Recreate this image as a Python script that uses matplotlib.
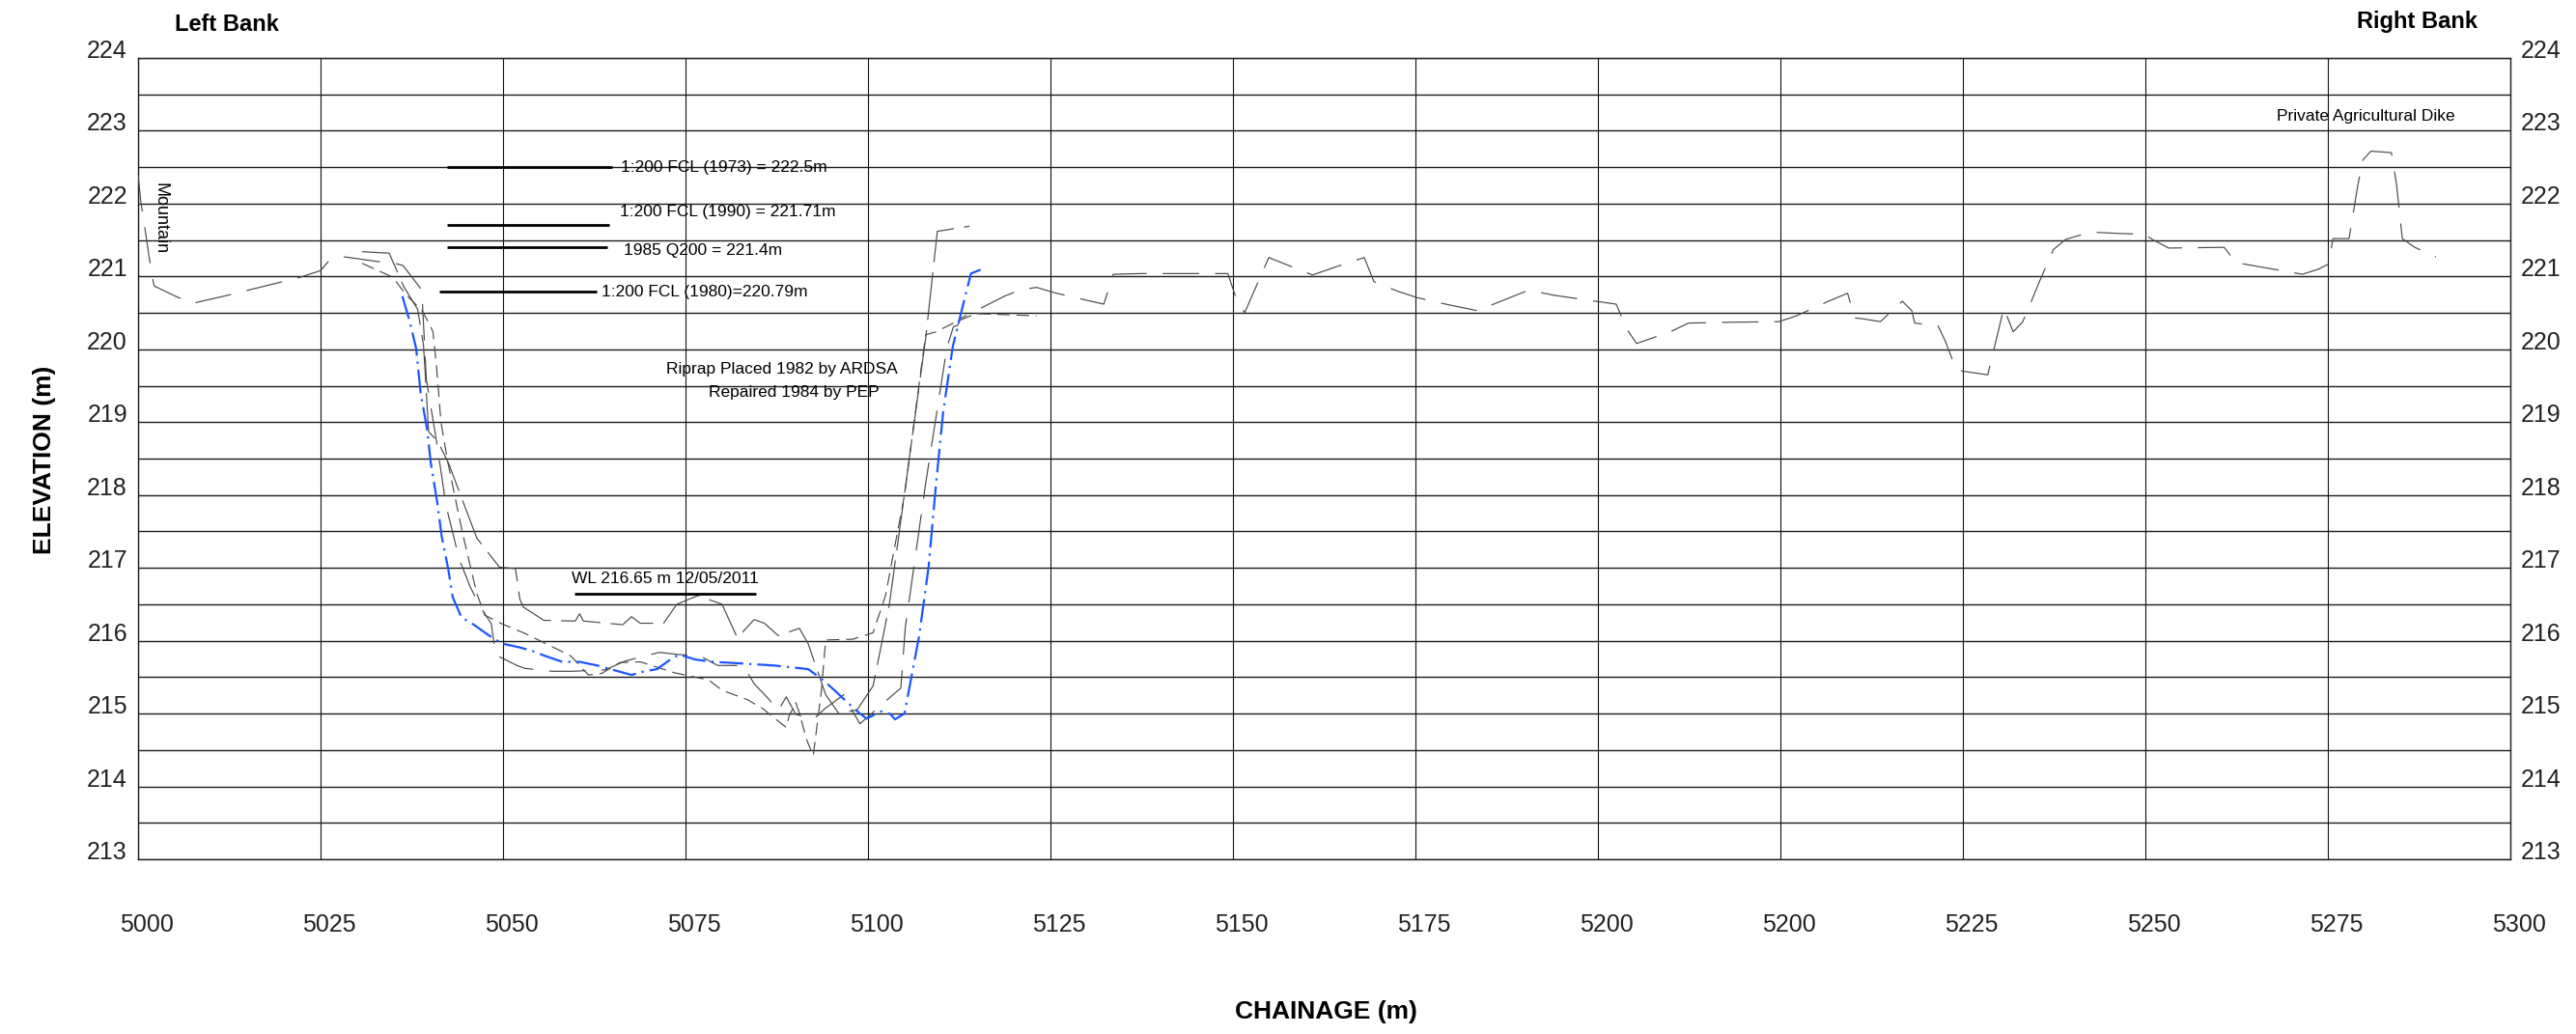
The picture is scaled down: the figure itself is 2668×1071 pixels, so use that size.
import numpy as np
import matplotlib
matplotlib.use('Agg')
import matplotlib.pyplot as plt
from matplotlib.transforms import blended_transform_factory, ScaledTranslation

plt.rcParams['font.family'] = ['Liberation Sans', 'DejaVu Sans']

W, H, DPI = 2668, 1071, 100

# ---------------- data ----------------
grid_chainage = [5000, 5025, 5050, 5075, 5100, 5125, 5150, 5175, 5200, 5225, 5250, 5275, 5300, 5325]
chainage_labels = ["5000", "5025", "5050", "5075", "5100", "5125", "5150", "5175",
                   "5200", "5200", "5225", "5250", "5275", "5300"]
elev_ticks = [213, 214, 215, 216, 217, 218, 219, 220, 221, 222, 223, 224]
elev_half = [213.5, 214.5, 215.5, 216.5, 217.5, 218.5, 219.5, 220.5, 221.5, 222.5, 223.5]

# latest survey (blue dash-dot)
survey_2011 = [(5036.2, 220.73), (5037.2, 220.39), (5038.1, 220.01), (5038.7, 219.41), (5039.6, 218.90),
               (5040.1, 218.44), (5041.0, 217.89), (5041.6, 217.43), (5042.5, 216.98), (5043.1, 216.60),
               (5044.3, 216.32), (5046.0, 216.22), (5048.1, 216.07), (5049.9, 215.96), (5052.2, 215.91),
               (5054.0, 215.86), (5055.8, 215.79), (5058.1, 215.71), (5060.5, 215.71), (5062.9, 215.66),
               (5065.8, 215.58), (5067.6, 215.53), (5069.4, 215.58), (5071.1, 215.61), (5072.9, 215.74),
               (5074.1, 215.81), (5076.4, 215.74), (5078.8, 215.71), (5082.3, 215.69), (5087.1, 215.66),
               (5091.8, 215.61), (5093.6, 215.48), (5095.3, 215.33), (5097.1, 215.16), (5098.9, 215.00),
               (5099.8, 214.93), (5101.8, 215.03), (5103.1, 214.99), (5103.7, 214.92), (5105.0, 215.00),
               (5106.0, 215.53), (5107.0, 216.06), (5108.3, 217.01), (5109.3, 218.13), (5110.3, 219.14),
               (5111.6, 220.03), (5112.9, 220.56), (5114.1, 221.04), (5116.1, 221.12)]

# full ground profile (grey long dash)
ground_profile = [(5000.0, 222.39), (5000.4, 222.01), (5000.75, 221.79), (5001.5, 221.28), (5001.85, 221.04),
                  (5002.2, 220.87), (5005.1, 220.73), (5007.4, 220.63), (5012.2, 220.74), (5014.6, 220.80),
                  (5019.5, 220.92), (5021.9, 220.98), (5025.0, 221.08), (5026.1, 221.21), (5028.2, 221.27),
                  (5033.2, 221.20), (5035.6, 221.17), (5036.3, 221.15), (5038.9, 220.81), (5039.0, 220.55),
                  (5039.5, 219.58), (5040.9, 218.73), (5042.2, 217.85), (5044.0, 217.12), (5045.5, 216.74),
                  (5046.8, 216.48), (5048.4, 216.23), (5049.0, 215.79), (5049.7, 215.77), (5051.9, 215.66),
                  (5053.0, 215.62), (5056.8, 215.58), (5059.3, 215.58), (5064.0, 215.60), (5066.7, 215.72),
                  (5071.4, 215.84), (5074.1, 215.81), (5077.0, 215.79), (5079.4, 215.66), (5082.9, 215.66),
                  (5084.4, 215.41), (5086.3, 215.21), (5087.7, 215.04), (5088.8, 215.23), (5090.1, 214.99),
                  (5092.5, 214.92), (5094.0, 215.06), (5096.7, 215.26), (5097.6, 215.08), (5098.9, 214.86),
                  (5103.1, 215.23), (5104.5, 215.35), (5105.1, 216.17), (5107.9, 218.16), (5110.8, 220.02),
                  (5111.7, 220.31), (5112.3, 220.33), (5112.6, 220.42), (5118.7, 220.73), (5121.0, 220.82),
                  (5123.1, 220.85), (5125.8, 220.77), (5129.3, 220.69), (5132.3, 220.62), (5133.6, 221.03),
                  (5137.4, 221.04), (5149.3, 221.04), (5150.3, 220.74), (5151.6, 220.50), (5154.9, 221.26),
                  (5158.4, 221.12), (5160.9, 221.02), (5165.5, 221.18), (5168.0, 221.26), (5169.3, 220.93),
                  (5172.5, 220.80), (5175.2, 220.71), (5179.6, 220.61), (5183.5, 220.53), (5186.7, 220.66),
                  (5190.2, 220.80), (5191.6, 220.79), (5194.1, 220.74), (5199.0, 220.67), (5202.5, 220.62),
                  (5204.0, 220.27), (5205.3, 220.08), (5209.9, 220.24), (5212.4, 220.36), (5217.1, 220.37),
                  (5224.8, 220.38), (5227.2, 220.46), (5231.6, 220.66), (5234.2, 220.77), (5235.2, 220.43),
                  (5236.2, 220.42), (5238.7, 220.38), (5240.8, 220.58), (5241.7, 220.66), (5243.0, 220.53),
                  (5243.4, 220.36), (5246.6, 220.32), (5247.6, 220.11), (5249.1, 219.72), (5250.0, 219.70),
                  (5253.4, 219.65), (5254.3, 220.02), (5254.9, 220.27), (5255.6, 220.57), (5256.1, 220.44),
                  (5256.9, 220.24), (5258.2, 220.38), (5259.3, 220.64), (5260.4, 220.91), (5262.4, 221.37),
                  (5264.1, 221.51), (5267.5, 221.61), (5271.4, 221.59), (5274.8, 221.58), (5276.1, 221.50),
                  (5278.2, 221.39), (5285.8, 221.40), (5287.4, 221.19), (5289.1, 221.16), (5296.5, 221.03),
                  (5298.7, 221.10), (5300.1, 221.17), (5300.7, 221.52), (5302.9, 221.52), (5304.1, 222.25),
                  (5304.8, 222.60), (5305.9, 222.72), (5308.7, 222.70), (5309.4, 222.27), (5310.2, 221.52),
                  (5311.9, 221.40), (5314.8, 221.27)]

# older channel survey (grey long dash, upper bed)
survey_old_a = [(5030.7, 221.34), (5034.4, 221.32), (5036.4, 220.86), (5038.3, 220.55), (5039.1, 220.06),
                (5039.5, 219.40), (5039.8, 218.87), (5041.1, 218.73), (5042.6, 218.42), (5044.4, 217.94),
                (5046.4, 217.41), (5049.5, 217.01), (5051.7, 216.99), (5052.3, 216.57), (5052.8, 216.46),
                (5055.6, 216.28), (5059.9, 216.27), (5060.5, 216.37), (5061.0, 216.27), (5066.4, 216.22),
                (5067.6, 216.33), (5068.8, 216.24), (5072.0, 216.24), (5073.8, 216.50), (5076.7, 216.62),
                (5080.0, 216.50), (5082.1, 216.04), (5084.4, 216.29), (5085.8, 216.24), (5087.7, 216.07),
                (5090.6, 216.17), (5091.8, 215.96), (5093.0, 215.61), (5094.2, 215.26), (5096.0, 215.00),
                (5098.5, 215.05), (5100.7, 215.38), (5102.9, 216.48), (5104.9, 217.94), (5106.4, 219.05),
                (5107.9, 220.15), (5109.5, 221.62), (5113.9, 221.69)]

# older channel survey (grey short dash, deep scour)
survey_old_b = [(5030.7, 221.18), (5034.9, 220.99), (5036.7, 220.75), (5038.9, 220.53), (5040.0, 220.33),
                (5040.4, 220.24), (5040.9, 219.75), (5041.5, 219.00), (5042.4, 218.47), (5044.4, 217.50),
                (5046.4, 216.65), (5047.5, 216.35), (5049.9, 216.23), (5053.0, 216.10), (5057.9, 215.86),
                (5059.3, 215.79), (5061.7, 215.53), (5063.5, 215.55), (5066.0, 215.70), (5068.8, 215.71),
                (5073.5, 215.56), (5078.2, 215.46), (5080.0, 215.32), (5083.5, 215.19), (5085.7, 215.06),
                (5087.0, 214.95), (5088.8, 214.81), (5089.2, 214.97), (5090.1, 215.15), (5090.5, 215.04),
                (5091.6, 214.64), (5092.5, 214.42), (5093.6, 215.30), (5094.2, 216.01), (5097.9, 216.02),
                (5100.7, 216.11), (5102.4, 216.62), (5105.0, 218.00), (5107.9, 220.20), (5109.3, 220.24),
                (5112.1, 220.38), (5114.8, 220.49), (5123.1, 220.46)]

# reference levels: (label, elevation, line start, line end, text x, text y)
level_lines = [("1:200 FCL (1973) = 222.5m", 222.50, 5042.3, 5065.0, 5066.1, 222.50),
               ("1:200 FCL (1990) = 221.71m", 221.71, 5042.3, 5064.5, 5066.0, 221.88),
               ("1985 Q200 = 221.4m", 221.40, 5042.3, 5064.3, 5066.5, 221.36),
               ("1:200 FCL (1980)=220.79m", 220.79, 5041.3, 5062.8, 5063.5, 220.79)]
water_level = 216.65
water_extent = (5059.8, 5084.6)

# ---------------- figure ----------------
fig = plt.figure(figsize=(W / DPI, H / DPI), dpi=DPI)
ax = fig.add_axes([143 / W, 1 - 890 / H, (2600 - 143) / W, (890 - 60) / H])
ax.set_xlim(5000, 5325)
ax.set_ylim(213, 224)

ax.set_xticks(grid_chainage)
ax.set_yticks(elev_ticks)
ax.set_yticks(elev_half, minor=True)
ax.set_axisbelow(True)
ax.grid(axis='y', which='both', color='#1c1c1c', lw=1.0)
ax.grid(axis='x', which='major', color='#111111', lw=0.8)
ax.tick_params(axis='x', length=0, labelbottom=False)
ax.tick_params(axis='y', which='both', length=0, labelleft=True, labelright=True,
               labelsize=18, colors='#222222')
ax.tick_params(axis='y', which='major', pad=8)
for t in ax.yaxis.get_major_ticks():
    t.label1.set_va('baseline')
    t.label2.set_va('baseline')
for lbl in ax.yaxis.get_majorticklabels():
    lbl.set_va('baseline')
for sp in ax.spines.values():
    sp.set_color('#1c1c1c')
    sp.set_linewidth(1.0)

# x labels, shifted a little to the right of the grid lines
trans_x = blended_transform_factory(ax.transData, ax.transAxes) + \
    ScaledTranslation(9 / DPI, -68 / DPI, fig.dpi_scale_trans)
for xv, lab in zip(grid_chainage, chainage_labels):
    ax.text(xv, 0, lab, transform=trans_x, ha='center', va='center', fontsize=18, color='#222222')

# profiles
gx, gy = zip(*ground_profile)
ax.plot(gx, gy, color='#4a4a4a', lw=0.85, linestyle=(0, (32, 14)), zorder=3)
ax_, ay_ = zip(*survey_old_a)
ax.plot(ax_, ay_, color='#4a4a4a', lw=0.85, linestyle=(0, (42, 9)), zorder=3)
bx, by = zip(*survey_old_b)
ax.plot(bx, by, color='#4a4a4a', lw=0.85, linestyle=(0, (11, 6)), zorder=3)
sx, sy = zip(*survey_2011)
ax.plot(sx, sy, color='#1a56ff', lw=1.6, linestyle=(0, (11, 2.8, 1, 2.8)), zorder=4)

# reference level lines and labels
for lab, lev, x0, x1, tx, ty in level_lines:
    ax.hlines(lev, x0, x1, color='black', lw=2.0, zorder=5)
    ax.text(tx, ty, lab, ha='left', va='center', fontsize=12.5, color='black', zorder=6)

ax.hlines(water_level, water_extent[0], water_extent[1], color='black', lw=2.0, zorder=5)
ax.text(sum(water_extent) / 2, water_level + 0.2, "WL 216.65 m 12/05/2011",
        ha='center', va='center', fontsize=12.5, zorder=6)

ax.text(5088.2, 219.72, "Riprap Placed 1982 by ARDSA", ha='center', va='center', fontsize=12.5, zorder=6)
ax.text(5089.8, 219.41, "Repaired 1984 by PEP", ha='center', va='center', fontsize=12.5, zorder=6)
ax.text(5003.0, 221.8, "Mountain", rotation=270, ha='center', va='center', fontsize=13, zorder=6)
ax.text(5305.2, 223.2, "Private Agricultural Dike", ha='center', va='center', fontsize=12.5, zorder=6)

# titles
fig.text(181 / W, 1 - 25 / H, "Left Bank", ha='left', va='center', fontsize=17, fontweight='bold')
fig.text(2441 / W, 1 - 22 / H, "Right Bank", ha='left', va='center', fontsize=17, fontweight='bold')
fig.text(46 / W, 1 - 476 / H, "ELEVATION (m)", rotation=90, ha='center', va='center',
         fontsize=19, fontweight='bold')
fig.text(1373 / W, 1 - 1048 / H, "CHAINAGE (m)", ha='center', va='center', fontsize=19, fontweight='bold')

fig.savefig('out.png', dpi=DPI)
